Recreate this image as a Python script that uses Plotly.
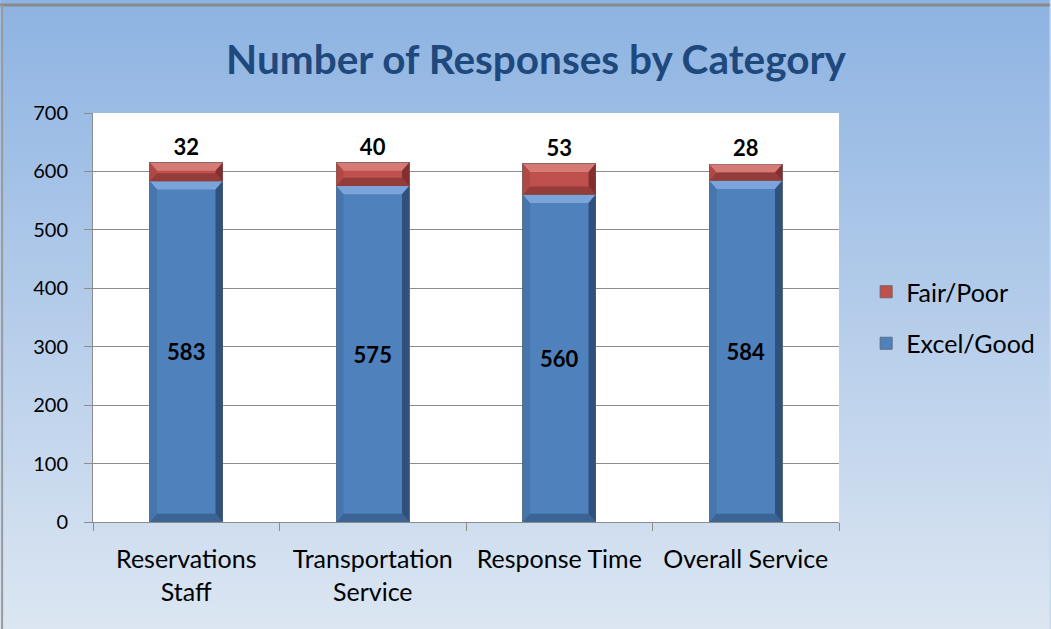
import plotly.graph_objects as go

# ------------------------------------------------------------
# DATA
# ------------------------------------------------------------
categories = ["Reservations Staff", "Transportation Service", "Response Time", "Overall Service"]
tick_text = ["Reservations<br>Staff", "Transportation<br>Service", "Response Time", "Overall Service"]
excel_good = [583, 575, 560, 584]
fair_poor = [32, 40, 53, 28]

FONT = "Lato"
W, H = 1051, 629
ML, MR, MT, MB = 93, 211, 113, 107
PW, PH = W - ML - MR, H - MT - MB
BAR_W = 0.39

BLUE = "#4F81BD"
RED = "#C0504D"
# bevel colours: top, left, right, bottom
BLUE_BEVEL = ("#7EA7DD", "#4673AB", "#2C4B74", "#38608F")
RED_BEVEL = ("#D87E7B", "#AE4744", "#7A2C2A", "#8E3A37")

fig = go.Figure()

fig.add_trace(go.Bar(
    x=categories, y=excel_good, name="Excel/Good", legendgroup="eg", legendrank=2,
    marker=dict(color=BLUE, line=dict(color="#5f6f80", width=1)),
    text=excel_good, textposition="inside", insidetextanchor="middle",
    textfont=dict(family=FONT, size=22, color="black", weight="bold"),
    width=BAR_W,
))
fig.add_trace(go.Bar(
    x=categories, y=fair_poor, name="Fair/Poor", legendgroup="fp", legendrank=1,
    marker=dict(color=RED, line=dict(color="#7a5f5f", width=1)),
    text=fair_poor, textposition="outside",
    textfont=dict(family=FONT, size=22, color="black", weight="bold"),
    width=BAR_W, cliponaxis=False,
))


def bevel_shapes(xc, y0, y1, cols):
    hw = BAR_W / 2
    bx = 0.038
    by = min(14.0, (y1 - y0) / 2)
    polys = [
        [(xc - hw, y1), (xc + hw, y1), (xc + hw - bx, y1 - by), (xc - hw + bx, y1 - by)],
        [(xc - hw, y1), (xc - hw, y0), (xc - hw + bx, y0 + by), (xc - hw + bx, y1 - by)],
        [(xc + hw, y1), (xc + hw, y0), (xc + hw - bx, y0 + by), (xc + hw - bx, y1 - by)],
        [(xc - hw, y0), (xc + hw, y0), (xc + hw - bx, y0 + by), (xc - hw + bx, y0 + by)],
    ]
    out = []
    for pts, c in zip(polys, cols):
        path = "M " + " L ".join(f"{px},{py}" for px, py in pts) + " Z"
        out.append(dict(type="path", xref="x", yref="y", path=path,
                        fillcolor=c, line=dict(width=0), layer="above", opacity=0.9))
    return out


# gradient background through an svg image
svg = ("<svg xmlns='http://www.w3.org/2000/svg' width='100' height='100' preserveAspectRatio='none'>"
       "<defs><linearGradient id='g' x1='0' y1='0' x2='0' y2='1'>"
       "<stop offset='0' stop-color='%238DB3E2'/><stop offset='1' stop-color='%23DCE6F2'/>"
       "</linearGradient></defs><rect width='100' height='100' fill='url(%23g)'/></svg>")
bg_src = "data:image/svg+xml;charset=utf-8," + svg.replace("<", "%3C").replace(">", "%3E").replace(" ", "%20")

x0p, x1p = -ML / PW, 1 + MR / PW
y0p, y1p = -MB / PH, 1 + MT / PH

shapes = [
    dict(type="rect", xref="paper", yref="paper", x0=0, x1=1, y0=0, y1=1,
         fillcolor="white", line=dict(width=0), layer="below"),
    dict(type="line", xref="paper", yref="paper", x0=x0p, x1=x1p,
         y0=1 + (MT - 5) / PH, y1=1 + (MT - 5) / PH,
         line=dict(color="#8a8a8a", width=3)),
    dict(type="line", xref="paper", yref="paper", x0=x0p + 2 / PW, x1=x0p + 2 / PW,
         y0=y0p, y1=1 + (MT - 5) / PH,
         line=dict(color="#9a9a9a", width=2)),
]
for i, (eg, fp) in enumerate(zip(excel_good, fair_poor)):
    shapes += bevel_shapes(i, 0, eg, BLUE_BEVEL)
    shapes += bevel_shapes(i, eg, eg + fp, RED_BEVEL)

fig.update_layout(
    images=[dict(source=bg_src, xref="paper", yref="paper",
                 x=x0p, y=y1p, sizex=x1p - x0p, sizey=y1p - y0p,
                 xanchor="left", yanchor="top", sizing="stretch", layer="below")],
    shapes=shapes,
)

fig.update_layout(
    width=W, height=H,
    barmode="stack",
    paper_bgcolor="#C6D9F1",
    plot_bgcolor="rgba(0,0,0,0)",
    margin=dict(l=ML, r=MR, t=MT, b=MB),
    title=dict(text="<b>Number of Responses by Category</b>", x=0.51, xanchor="center",
               y=0.905, yanchor="middle",
               font=dict(family=FONT, size=40.5, color="#1F497D")),
    font=dict(family=FONT, size=21, color="black"),
    legend=dict(x=1.035, y=0.5, xanchor="left", yanchor="middle",
                traceorder="grouped", bgcolor="rgba(0,0,0,0)",
                font=dict(family=FONT, size=25), tracegroupgap=16, itemwidth=30),
    showlegend=True,
)

fig.update_yaxes(
    range=[0, 700], dtick=100, showgrid=True, gridcolor="#8c8c8c", gridwidth=1,
    showline=True, linecolor="#8c8c8c", linewidth=1,
    ticks="outside", ticklen=8, tickcolor="#8c8c8c", ticklabelstandoff=12,
    tickfont=dict(family=FONT, size=20), zeroline=False,
)
fig.update_xaxes(
    tickmode="array", tickvals=categories, ticktext=tick_text,
    tickson="boundaries", ticks="outside", ticklen=8, tickcolor="#8c8c8c",
    showline=True, linecolor="#8c8c8c", linewidth=1, ticklabelstandoff=15,
    tickfont=dict(family=FONT, size=25),
)

fig.write_html("out.html", config=dict(displayModeBar=False),
               post_script="document.body.style.margin='0';")
